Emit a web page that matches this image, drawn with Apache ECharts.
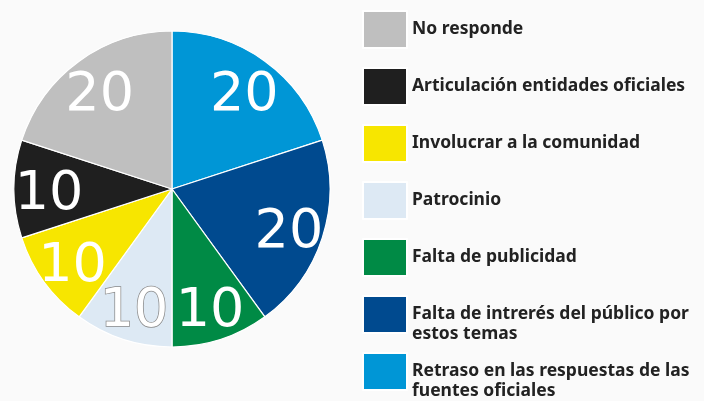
<!DOCTYPE html>
<html><head><meta charset="utf-8">
<script src="https://cdn.jsdelivr.net/npm/echarts@6/dist/echarts.min.js"></script>
<style>html,body{margin:0;padding:0;background:#fafafa}#c{width:704px;height:401px}</style>
</head><body><div id="c"></div>
<script>
// Data, clockwise from 12 o'clock
const categories = [
  'Retraso en las respuestas de las fuentes oficiales',
  'Falta de intrerés del público por estos temas',
  'Falta de publicidad',
  'Patrocinio',
  'Involucrar a la comunidad',
  'Articulación entidades oficiales',
  'No responde'
];
const values = [20, 20, 10, 10, 10, 10, 20];
const colors = ['#0096d6', '#004a8f', '#008a45', '#dde9f4', '#f7e600', '#1f1f1f', '#bfbfbf'];
const legendLabels = [
  'Retraso en las respuestas de las\nfuentes oficiales',
  'Falta de intrerés del público por\nestos temas',
  'Falta de publicidad',
  'Patrocinio',
  'Involucrar a la comunidad',
  'Articulación entidades oficiales',
  'No responde'
];
const legendOrder = [6, 5, 4, 3, 2, 1, 0];

const chart = echarts.init(document.getElementById('c'), null, {renderer: 'canvas'});
const mkLabel = (i) => i === 3
  ? {show: true, color: '#ffffff', textBorderColor: '#8a8a8a', textBorderWidth: 1.5}
  : {show: true};
const swatchTops = [10, 67, 124, 181, 238, 296, 353];
const legends = legendOrder.map((idx, k) => {
  const multi = legendLabels[idx].indexOf('\n') >= 0;
  return {
    data: [categories[idx]],
    orient: 'vertical',
    left: 362,
    top: multi ? swatchTops[k] - 11.5 : swatchTops[k],
    padding: 0,
    itemWidth: 44,
    itemHeight: 37,
    itemGap: 0,
    icon: 'rect',
    selectedMode: false,
    formatter: () => (multi ? '\n' : '') + legendLabels[idx],
    textStyle: {
      fontFamily: 'Noto Sans', fontWeight: 'bold', fontSize: 17.5, color: '#222',
      lineHeight: 20
    }
  };
});
chart.setOption({
  backgroundColor: '#fafafa',
  animation: false,
  legend: legends,
  series: [
    {
      type: 'pie', center: [172, 189], radius: 158, startAngle: 90, clockwise: true,
      avoidLabelOverlap: false, silent: true,
      itemStyle: {borderColor: '#ffffff', borderWidth: 1.2},
      label: {show: false}, labelLine: {show: false},
      data: categories.map((c, i) => ({name: c, value: values[i], itemStyle: {color: colors[i]}}))
    },
    {
      type: 'pie', center: [172, 189], radius: [58, 182], startAngle: 90, clockwise: true,
      avoidLabelOverlap: false, silent: true, legendHoverLink: false,
      labelLayout: {hideOverlap: false},
      itemStyle: {color: 'rgba(0,0,0,0)', borderWidth: 0},
      label: {show: true, position: 'inside', formatter: '{c}', color: '#ffffff', offset: [0, 6],
              fontFamily: 'DejaVu Sans', fontSize: 54, fontWeight: 'normal'},
      labelLine: {show: false},
      data: categories.map((c, i) => ({name: c + ' ', value: values[i], label: mkLabel(i),
        itemStyle: {color: 'rgba(0,0,0,0)'}}))
    }
  ]
});
</script></body></html>
